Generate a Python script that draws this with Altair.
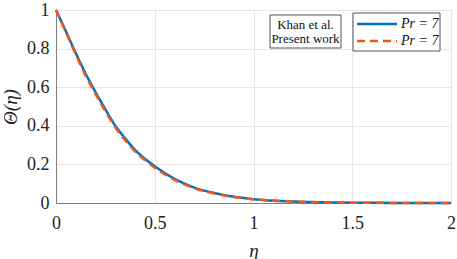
import altair as alt
import pandas as pd

eta = [0, 0.05, 0.1, 0.15, 0.2, 0.25, 0.3, 0.35, 0.4, 0.5, 0.6, 0.7, 0.8, 0.9, 1.0, 1.2, 1.4, 1.6, 1.8, 2.0]
khan = [1, 0.89, 0.777, 0.67, 0.575, 0.485, 0.40, 0.335, 0.275, 0.19, 0.125, 0.08, 0.052, 0.032, 0.02, 0.008, 0.003, 0.001, 0.0004, 0]
present = [1, 0.885, 0.77, 0.66, 0.565, 0.475, 0.392, 0.325, 0.268, 0.183, 0.12, 0.077, 0.05, 0.031, 0.019, 0.008, 0.003, 0.001, 0.0004, 0]

x_ticks = [0, 0.5, 1, 1.5, 2]
y_ticks = [0, 0.2, 0.4, 0.6, 0.8, 1]

BLUE = "#0072BD"
ORANGE = "#F0561D"
SERIF = "'Liberation Serif', 'DejaVu Serif', serif"

df_k = pd.DataFrame({"eta": eta, "theta": khan})
df_p = pd.DataFrame({"eta": eta, "theta": present})

x_enc = alt.X("eta:Q", scale=alt.Scale(domain=[0, 2], nice=False),
              axis=alt.Axis(values=x_ticks, title="η", format="~g", labelFlush=False,
                            labelOverlap=False, titlePadding=9, labelPadding=11))
y_enc = alt.Y("theta:Q", scale=alt.Scale(domain=[0, 1], nice=False),
              axis=alt.Axis(values=y_ticks, title="Θ(η)", format="~g",
                            labelOverlap=False, titlePadding=6, labelPadding=7))

line_k = alt.Chart(df_k).mark_line(color=BLUE, strokeWidth=2.5, interpolate="monotone").encode(x=x_enc, y=y_enc)
line_p = alt.Chart(df_p).mark_line(color=ORANGE, strokeWidth=2.5, strokeDash=[8, 5],
                                   interpolate="monotone").encode(x=x_enc, y=y_enc)

one = alt.Data(values=[{"a": 1}])

box1 = alt.Chart(one).mark_rect(fill="white", stroke="#555", strokeWidth=1).encode(
    x=alt.value(214), x2=alt.value(285), y=alt.value(5), y2=alt.value(38))
txt1 = alt.Chart(one).mark_text(font=SERIF, fontSize=13, color="#111", align="center", baseline="middle").encode(
    x=alt.value(249.5), y=alt.value(15), text=alt.value("Khan et al."))
txt2 = alt.Chart(one).mark_text(font=SERIF, fontSize=13, color="#111", align="center", baseline="middle").encode(
    x=alt.value(249.5), y=alt.value(29), text=alt.value("Present work"))

box2 = alt.Chart(one).mark_rect(fill="white", stroke="#555", strokeWidth=1).encode(
    x=alt.value(297), x2=alt.value(384), y=alt.value(3), y2=alt.value(41))
leg_l1 = alt.Chart(one).mark_rule(color=BLUE, strokeWidth=2.5).encode(
    x=alt.value(301), x2=alt.value(341), y=alt.value(14))
leg_l2 = alt.Chart(one).mark_rule(color=ORANGE, strokeWidth=2.5, strokeDash=[8, 5]).encode(
    x=alt.value(301), x2=alt.value(341), y=alt.value(31))
leg_t1 = alt.Chart(one).mark_text(font=SERIF, fontSize=14, fontStyle="italic", color="#111",
                                  align="left", baseline="middle").encode(
    x=alt.value(345), y=alt.value(14), text=alt.value("Pr = 7"))
leg_t2 = alt.Chart(one).mark_text(font=SERIF, fontSize=14, fontStyle="italic", color="#111",
                                  align="left", baseline="middle").encode(
    x=alt.value(345), y=alt.value(31), text=alt.value("Pr = 7"))

chart = alt.layer(line_k, line_p, box1, txt1, txt2, box2, leg_l1, leg_l2, leg_t1, leg_t2).properties(
    width=395, height=193,
    autosize=alt.AutoSizeParams(type="none"),
    padding={"left": 56, "top": 10, "right": 6, "bottom": 56},
    background="white",
).configure_view(stroke="#808080", strokeWidth=1).configure_axis(
    labelFont=SERIF, labelFontSize=18, labelColor="#222",
    titleFont=SERIF, titleFontSize=19, titleFontWeight="normal", titleFontStyle="italic",
    titleColor="#222", ticks=False, domainColor="#808080", gridColor="#e6e6e6",
)

chart.save("out.html", embed_options={"renderer": "svg", "actions": False})
